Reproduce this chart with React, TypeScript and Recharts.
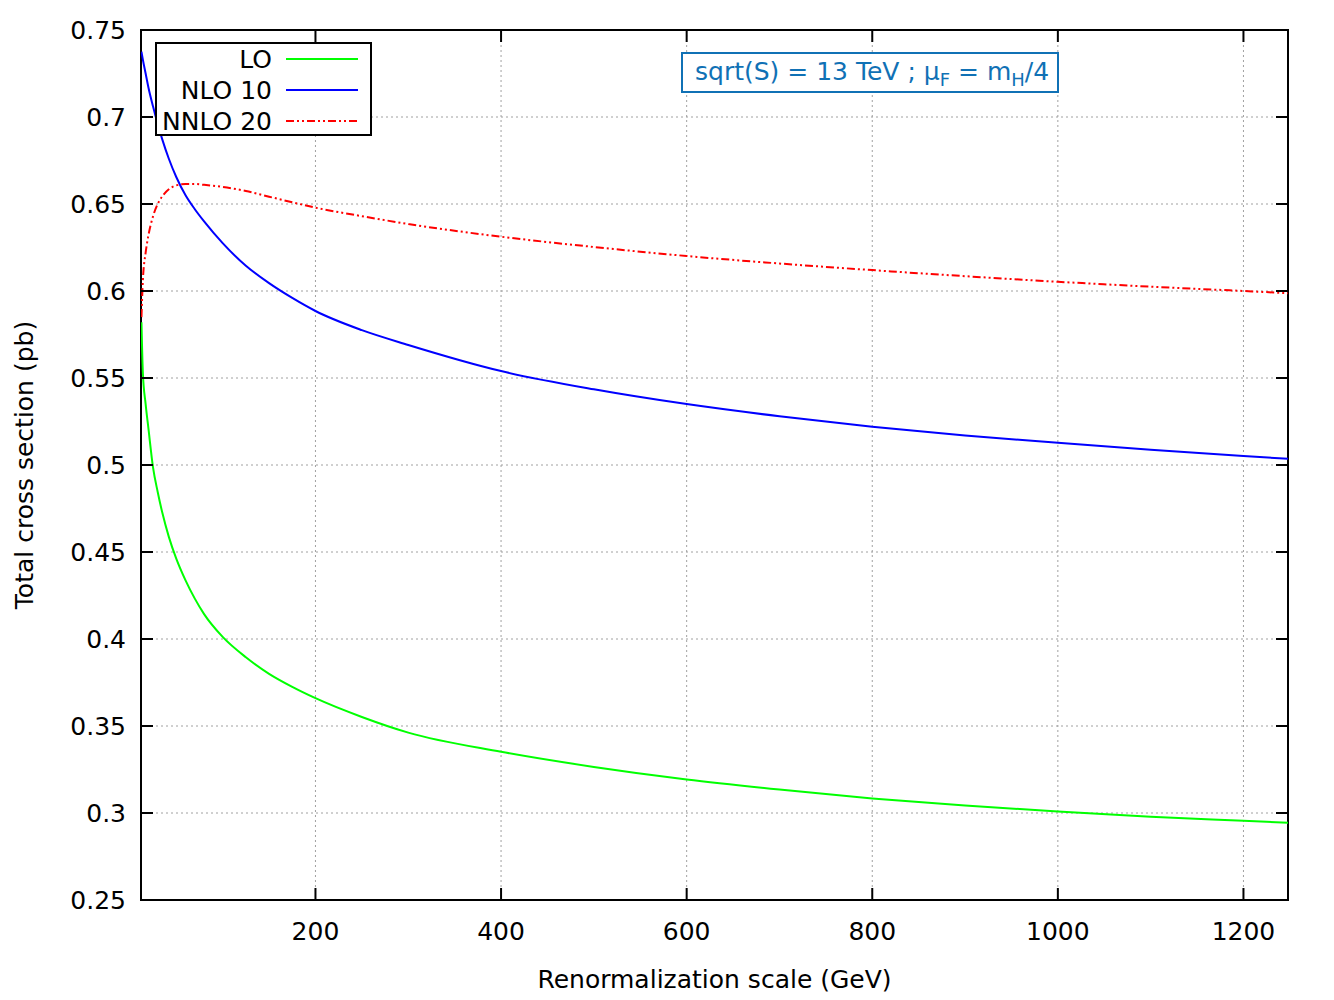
import React from "react";
import {
  LineChart,
  Line,
  XAxis,
  YAxis,
  CartesianGrid,
  Legend,
  ReferenceArea,
} from "recharts";

// renormalization scale (GeV)
const muR = [
  12.5, 14, 17, 20, 25, 30, 35, 42, 50, 60, 70, 80, 100, 125, 150, 175, 200,
  250, 300, 400, 500, 600, 700, 800, 900, 1000, 1100, 1200, 1250,
];

// total cross section (pb)
const lo = [
  0.582, 0.553, 0.535, 0.521, 0.4985, 0.4845, 0.4725, 0.4587, 0.4462, 0.4337,
  0.4232, 0.4143, 0.4012, 0.3895, 0.38, 0.3725, 0.366, 0.3552, 0.3462, 0.3352,
  0.3265, 0.3193, 0.3135, 0.3084, 0.3043, 0.3008, 0.2979, 0.2955, 0.2943,
];
const nlo10 = [
  0.7375, 0.733, 0.725, 0.717, 0.706, 0.696, 0.687, 0.676, 0.6655, 0.655,
  0.647, 0.64, 0.6275, 0.6145, 0.6045, 0.596, 0.5885, 0.5775, 0.569, 0.554,
  0.5435, 0.535, 0.528, 0.522, 0.517, 0.5128, 0.5088, 0.5052, 0.5035,
];
const nnlo20 = [
  0.585, 0.606, 0.622, 0.632, 0.643, 0.65, 0.6545, 0.6585, 0.6607, 0.6615,
  0.6615, 0.661, 0.6598, 0.6575, 0.6542, 0.651, 0.6479, 0.643, 0.6385, 0.6312,
  0.6253, 0.6201, 0.6158, 0.612, 0.6085, 0.6053, 0.6025, 0.6, 0.5987,
];

const xTicks = [200, 400, 600, 800, 1000, 1200];
const yTicks = [0.25, 0.3, 0.35, 0.4, 0.45, 0.5, 0.55, 0.6, 0.65, 0.7, 0.75];

const series = [
  { key: "lo", name: "LO", color: "#00ff00", dash: undefined },
  { key: "nlo", name: "NLO 10", color: "#0000ff", dash: undefined },
  { key: "nnlo", name: "NNLO 20", color: "#ff0000", dash: "8 3 2 3 2 3" },
];

const data = muR.map((mu, i) => ({
  mu,
  lo: lo[i],
  nlo: nlo10[i],
  nnlo: nnlo20[i],
}));

const W = 1334;
const H = 1000;
const PLOT_LEFT = 141;
const PLOT_TOP = 30;
const PLOT_RIGHT = 1288;
const PLOT_BOTTOM = 900;
const TICK = 12;
const FS = 25;
const FONT = "'DejaVu Sans', sans-serif";

const XTick = (props: any) => {
  const { x, y, payload } = props;
  return (
    <g>
      <line x1={x} y1={y} x2={x} y2={y - TICK} stroke="#000" strokeWidth={2} />
      <line x1={x} y1={PLOT_TOP} x2={x} y2={PLOT_TOP + TICK} stroke="#000" strokeWidth={2} />
      <text x={x} y={y + 40} textAnchor="middle" fontSize={FS} fill="#000" fontFamily={FONT}>
        {payload.value}
      </text>
    </g>
  );
};

const YTick = (props: any) => {
  const { x, y, payload } = props;
  return (
    <g>
      <line x1={x} y1={y} x2={x + TICK} y2={y} stroke="#000" strokeWidth={2} />
      <line x1={PLOT_RIGHT} y1={y} x2={PLOT_RIGHT - TICK} y2={y} stroke="#000" strokeWidth={2} />
      <text x={x - 15} y={y + 9} textAnchor="end" fontSize={FS} fill="#000" fontFamily={FONT}>
        {payload.value}
      </text>
    </g>
  );
};

const LegendBox = () => (
  <svg width={217} height={94} style={{ display: "block" }}>
    <rect x={1} y={1} width={215} height={92} fill="#fff" stroke="#000" strokeWidth={2} />
    {series.map((s, i) => {
      const cy = 17 + i * 31;
      return (
        <g key={s.key}>
          <text x={117} y={cy + 9} textAnchor="end" fontSize={FS} fill="#000" fontFamily={FONT}>
            {s.name}
          </text>
          <line
            x1={131}
            y1={cy}
            x2={203}
            y2={cy}
            stroke={s.color}
            strokeWidth={2}
            strokeDasharray={s.dash}
          />
        </g>
      );
    })}
  </svg>
);

const ANNOT = "#1071b5";

export default function App() {
  return (
    <div style={{ position: "absolute", left: 0, top: 0, width: W, height: H, background: "#fff", fontFamily: FONT }}>
      <LineChart
        width={W}
        height={H}
        data={data}
        margin={{ top: PLOT_TOP, right: W - PLOT_RIGHT, bottom: 0, left: 0 }}
      >
        <CartesianGrid stroke="#a0a0a0" strokeDasharray="2 3" strokeWidth={1} />
        <XAxis
          dataKey="mu"
          type="number"
          domain={[12, 1248]}
          allowDataOverflow
          ticks={xTicks}
          height={H - PLOT_BOTTOM}
          axisLine={false}
          tickLine={false}
          tickSize={0}
          tickMargin={0}
          tick={<XTick />}
          label={{
            value: "Renormalization scale (GeV)",
            position: "insideBottom",
            offset: 12,
            style: { fontSize: FS, fill: "#000", fontFamily: FONT },
          }}
        />
        <YAxis
          type="number"
          domain={[0.25, 0.75]}
          allowDataOverflow
          ticks={yTicks}
          width={PLOT_LEFT}
          axisLine={false}
          tickLine={false}
          tickSize={0}
          tickMargin={0}
          tick={<YTick />}
          label={{
            value: "Total cross section (pb)",
            angle: -90,
            position: "insideLeft",
            offset: 24,
            style: { fontSize: FS, fill: "#000", fontFamily: FONT, textAnchor: "middle" },
          }}
        />
        {series.map((s) => (
          <Line
            key={s.key}
            type="monotone"
            dataKey={s.key}
            name={s.name}
            stroke={s.color}
            strokeWidth={2}
            strokeDasharray={s.dash}
            dot={false}
            activeDot={false}
            isAnimationActive={false}
          />
        ))}
        <ReferenceArea
          x1={12}
          x2={1248}
          y1={0.25}
          y2={0.75}
          fill="none"
          fillOpacity={0}
          stroke="#000"
          strokeWidth={2}
        />
        <Legend
          layout="vertical"
          align="center"
          verticalAlign="middle"
          wrapperStyle={{ left: 155, top: 42, width: 217, height: 94 }}
          content={<LegendBox />}
        />
      </LineChart>
      <div
        style={{
          position: "absolute",
          left: 681,
          top: 52,
          width: 378,
          height: 41,
          boxSizing: "border-box",
          border: `2px solid ${ANNOT}`,
          color: ANNOT,
          fontSize: FS,
          lineHeight: "36px",
          paddingLeft: 12,
          whiteSpace: "nowrap",
          background: "#fff",
        }}
      >
        sqrt(S) = 13 TeV ; μ
        <sub style={{ fontSize: 18, verticalAlign: "-6px" }}>F</sub> = m
        <sub style={{ fontSize: 18, verticalAlign: "-6px" }}>H</sub>/4
      </div>
    </div>
  );
}
